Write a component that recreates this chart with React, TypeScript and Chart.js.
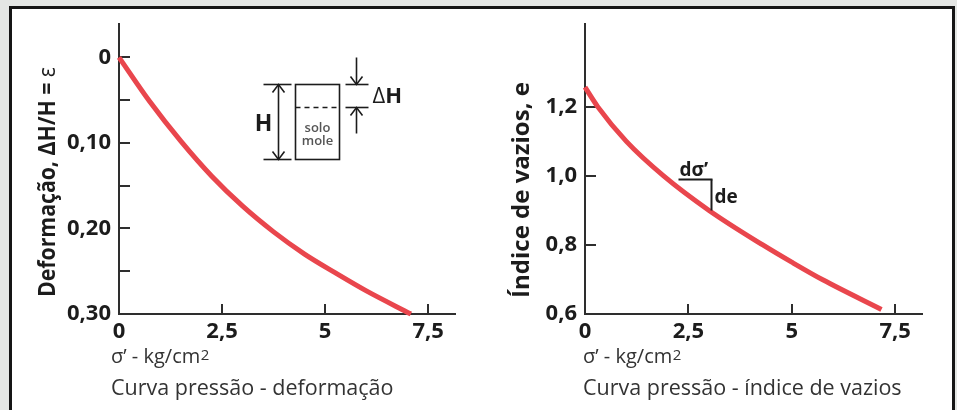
import React, { useEffect, useRef } from 'react';
import { Chart, registerables } from 'chart.js';

Chart.register(...registerables);

// ---------- data ----------
const sigmaDeform = [0, 0.75, 1.5, 2.25, 3.0, 3.75, 4.5, 5.25, 6.0, 7.08];
const strain = [0, 0.052, 0.098, 0.139, 0.174, 0.204, 0.23, 0.252, 0.273, 0.3];

const sigmaVoid = [0, 0.31, 1.0, 1.9, 3.0, 4.3, 5.0, 5.75, 7.17];
const voidRatio = [1.257, 1.2, 1.1, 1.0, 0.9, 0.8, 0.75, 0.699, 0.613];

const xTicks = [0, 2.5, 5, 7.5];
const xTickLabels = ['0', '2,5', '5', '7,5'];
const strainTicks = [0, 0.05, 0.1, 0.15, 0.2, 0.25, 0.3];
const strainTickLabels = ['0', '', '0,10', '', '0,20', '', '0,30'];
const voidTicks = [0.6, 0.8, 1.0, 1.2];
const voidTickLabels = ['0,6', '0,8', '1,0', '1,2'];

const X_MAX = 8.15;
const STRAIN_MIN = -0.039;
const STRAIN_MAX = 0.3;
const VOID_MIN = 0.6;
const VOID_MAX = 1.44;

// annotation anchors (data coordinates)
const insetAnchor = { x: 4.27, y: 0.0312 };
const slopeAnchor = { x: 2.24, y: 0.991 };

// ---------- styles ----------
const RED = '#e9464d';
const INK = '#1c1c1c';
const AXIS = '#2e2e2e';
const SUB = '#333333';
const FONT = "'Open Sans', 'Noto Sans', sans-serif";

function drawInwardTicks(chart: any, yVals: number[], xVals: number[]) {
  const { ctx, chartArea: a, scales } = chart;
  ctx.save();
  ctx.strokeStyle = AXIS;
  ctx.lineWidth = 2;
  for (const v of yVals) {
    const y = Math.round(scales.y.getPixelForValue(v));
    ctx.beginPath();
    ctx.moveTo(a.left, y);
    ctx.lineTo(a.left + 11, y);
    ctx.stroke();
  }
  for (const v of xVals) {
    const x = Math.round(scales.x.getPixelForValue(v));
    ctx.beginPath();
    ctx.moveTo(x, a.bottom);
    ctx.lineTo(x, a.bottom - 10);
    ctx.stroke();
  }
  ctx.restore();
}

function drawRotatedTitle(
  ctx: CanvasRenderingContext2D,
  bx: number,
  cy: number,
  parts: { t: string; w: string }[],
  size: number,
  targetLen: number
) {
  ctx.save();
  ctx.fillStyle = INK;
  ctx.textBaseline = 'alphabetic';
  ctx.textAlign = 'left';
  let total = 0;
  const widths = parts.map((p) => {
    ctx.font = `${p.w} ${size}px ${FONT}`;
    const w = ctx.measureText(p.t).width;
    total += w;
    return w;
  });
  const k = Math.min(1, targetLen / total);
  ctx.translate(bx, cy);
  ctx.rotate(-Math.PI / 2);
  ctx.scale(k, 1);
  let u = -total / 2;
  parts.forEach((p, i) => {
    ctx.font = `${p.w} ${size}px ${FONT}`;
    ctx.fillText(p.t, u, 0);
    u += widths[i];
  });
  ctx.restore();
}

function drawBottomTitles(ctx: CanvasRenderingContext2D, x: number, subtitle: string) {
  ctx.save();
  ctx.fillStyle = SUB;
  ctx.textBaseline = 'alphabetic';
  ctx.textAlign = 'left';
  ctx.font = `normal 20px ${FONT}`;
  const main = 'σ’ - kg/cm';
  ctx.fillText(main, x, 363);
  const w = ctx.measureText(main).width;
  ctx.font = `normal 15px ${FONT}`;
  ctx.fillText('2', x + w + 0.5, 359.5);
  ctx.font = `normal 21.5px ${FONT}`;
  ctx.fillText(subtitle, x, 395);
  ctx.restore();
}

function arrowHead(ctx: CanvasRenderingContext2D, x: number, y: number, dir: number) {
  ctx.beginPath();
  ctx.moveTo(x - 6, y - dir * 8);
  ctx.lineTo(x, y);
  ctx.lineTo(x + 6, y - dir * 8);
  ctx.stroke();
}

function line(ctx: CanvasRenderingContext2D, x1: number, y1: number, x2: number, y2: number) {
  ctx.beginPath();
  ctx.moveTo(x1, y1);
  ctx.lineTo(x2, y2);
  ctx.stroke();
}

const leftDecor = {
  id: 'leftDecor',
  beforeDatasetsDraw(chart: any) {
    drawInwardTicks(chart, strainTicks, xTicks);
  },
  afterDraw(chart: any) {
    const ctx: CanvasRenderingContext2D = chart.ctx;
    drawRotatedTitle(
      ctx,
      55,
      182,
      [
        { t: 'Deformação, ΔH/H = ', w: 'bold' },
        { t: 'ε', w: 'normal' },
      ],
      24,
      230
    );
    drawBottomTitles(ctx, chart.chartArea.left - 8, 'Curva pressão - deformação');

    // inset sketch of the soft-soil layer
    const ax = Math.round(chart.scales.x.getPixelForValue(insetAnchor.x)) + 0.5;
    const ay = Math.round(chart.scales.y.getPixelForValue(insetAnchor.y)) + 0.5;
    ctx.save();
    ctx.strokeStyle = INK;
    ctx.lineWidth = 1.6;
    ctx.strokeRect(ax, ay, 44, 75);
    ctx.setLineDash([5, 4]);
    line(ctx, ax, ay + 23, ax + 44, ay + 23);
    ctx.setLineDash([]);
    // H dimension
    line(ctx, ax - 32, ay, ax - 4, ay);
    line(ctx, ax - 32, ay + 75, ax - 4, ay + 75);
    line(ctx, ax - 17, ay, ax - 17, ay + 75);
    arrowHead(ctx, ax - 17, ay, -1);
    arrowHead(ctx, ax - 17, ay + 75, 1);
    // ΔH dimension
    line(ctx, ax + 50, ay, ax + 73, ay);
    line(ctx, ax + 50, ay + 23, ax + 73, ay + 23);
    line(ctx, ax + 61, ay - 27, ax + 61, ay);
    arrowHead(ctx, ax + 61, ay, 1);
    line(ctx, ax + 61, ay + 49, ax + 61, ay + 23);
    arrowHead(ctx, ax + 61, ay + 23, -1);
    // labels
    ctx.fillStyle = INK;
    ctx.textAlign = 'center';
    ctx.textBaseline = 'middle';
    ctx.font = `bold 23px ${FONT}`;
    ctx.fillText('H', ax - 32, ay + 40);
    ctx.fillStyle = '#555';
    ctx.font = `600 13px ${FONT}`;
    ctx.fillText('solo', ax + 22, ay + 44);
    ctx.fillText('mole', ax + 22, ay + 57);
    ctx.fillStyle = INK;
    ctx.textAlign = 'left';
    ctx.font = `normal 22px ${FONT}`;
    ctx.fillText('Δ', ax + 77, ay + 12);
    const dw = ctx.measureText('Δ').width;
    ctx.font = `bold 22px ${FONT}`;
    ctx.fillText('H', ax + 77 + dw, ay + 12);
    ctx.restore();
  },
};

const rightDecor = {
  id: 'rightDecor',
  beforeDatasetsDraw(chart: any) {
    drawInwardTicks(chart, voidTicks, xTicks);
  },
  afterDraw(chart: any) {
    const ctx: CanvasRenderingContext2D = chart.ctx;
    drawRotatedTitle(ctx, 51, 190, [{ t: 'Índice de vazios, e', w: 'bold' }], 24, 216);
    drawBottomTitles(ctx, chart.chartArea.left - 2, 'Curva pressão - índice de vazios');

    const ax = Math.round(chart.scales.x.getPixelForValue(slopeAnchor.x)) + 0.5;
    const ay = Math.round(chart.scales.y.getPixelForValue(slopeAnchor.y)) + 0.5;
    ctx.save();
    ctx.strokeStyle = INK;
    ctx.lineWidth = 2;
    line(ctx, ax, ay, ax + 34, ay);
    line(ctx, ax + 33, ay, ax + 33, ay + 31);
    ctx.fillStyle = INK;
    ctx.textAlign = 'left';
    ctx.textBaseline = 'alphabetic';
    ctx.font = `bold 19px ${FONT}`;
    ctx.fillText('dσ’', ax + 1, ay - 4);
    ctx.textBaseline = 'middle';
    ctx.fillText('de', ax + 36, ay + 18);
    ctx.restore();
  },
};

function buildChart(
  canvas: HTMLCanvasElement,
  xs: number[],
  ys: number[],
  yOpts: any,
  padRight: number,
  yWidth: number,
  plugin: any
) {
  return new Chart(canvas, {
    type: 'line',
    data: {
      datasets: [
        {
          data: xs.map((x, i) => ({ x, y: ys[i] })),
          borderColor: RED,
          borderWidth: 5,
          pointRadius: 0,
          cubicInterpolationMode: 'monotone',
          fill: false,
          clip: false,
        } as any,
      ],
    },
    options: {
      responsive: false,
      animation: false,
      events: [],
      layout: { padding: { left: 0, top: 24, right: padRight, bottom: 0 } },
      plugins: {
        legend: { display: false },
        tooltip: { enabled: false },
        title: { display: false },
      },
      scales: {
        x: {
          type: 'linear',
          min: 0,
          max: X_MAX,
          grid: { display: false, drawTicks: false },
          border: { display: true, color: AXIS, width: 2 },
          afterBuildTicks: (s: any) => {
            s.ticks = xTicks.map((v) => ({ value: v }));
          },
          afterFit: (s: any) => {
            s.height = 96;
          },
          ticks: {
            autoSkip: false,
            maxRotation: 0,
            padding: 5,
            color: INK,
            font: { family: FONT, size: 22, weight: 'bold' },
            callback: (_v: any, i: number) => xTickLabels[i],
          },
        },
        y: {
          type: 'linear',
          min: yOpts.min,
          max: yOpts.max,
          reverse: yOpts.reverse,
          grid: { display: false, drawTicks: false },
          border: { display: true, color: AXIS, width: 2 },
          afterBuildTicks: (s: any) => {
            s.ticks = yOpts.ticks.map((v: number) => ({ value: v }));
          },
          afterFit: (s: any) => {
            s.width = yWidth;
          },
          ticks: {
            autoSkip: false,
            padding: 8,
            color: INK,
            font: { family: FONT, size: 22, weight: 'bold' },
            callback: (_v: any, i: number) => yOpts.labels[i],
          },
        },
      },
    } as any,
    plugins: [plugin],
  });
}

export default function App() {
  const leftRef = useRef<HTMLCanvasElement>(null);
  const rightRef = useRef<HTMLCanvasElement>(null);

  useEffect(() => {
    const c1 = buildChart(
      leftRef.current!,
      sigmaDeform,
      strain,
      { min: STRAIN_MIN, max: STRAIN_MAX, reverse: true, ticks: strainTicks, labels: strainTickLabels },
      23,
      119,
      leftDecor
    );
    const c2 = buildChart(
      rightRef.current!,
      sigmaVoid,
      voidRatio,
      { min: VOID_MIN, max: VOID_MAX, reverse: false, ticks: voidTicks, labels: voidTickLabels },
      35,
      107,
      rightDecor
    );
    return () => {
      c1.destroy();
      c2.destroy();
    };
  }, []);

  return (
    <div
      style={{
        position: 'absolute',
        left: 0,
        top: 0,
        width: 957,
        height: 410,
        overflow: 'hidden',
        background: '#e4e6e4',
      }}
    >
      <div
        style={{
          position: 'absolute',
          left: 9,
          top: 6,
          width: 946,
          height: 420,
          boxSizing: 'border-box',
          border: '3px solid #151515',
          background: '#ffffff',
        }}
      />
      <canvas
        ref={leftRef}
        width={478}
        height={410}
        style={{ position: 'absolute', left: 0, top: 0, width: 478, height: 410 }}
      />
      <canvas
        ref={rightRef}
        width={479}
        height={410}
        style={{ position: 'absolute', left: 478, top: 0, width: 479, height: 410 }}
      />
    </div>
  );
}
